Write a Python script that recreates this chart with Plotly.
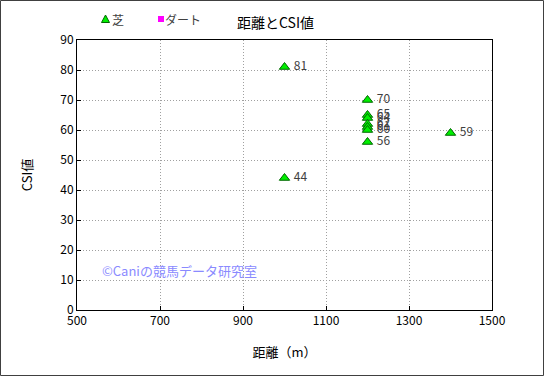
import plotly.graph_objects as go

# Data
turf_distance = [1000, 1000, 1200, 1200, 1200, 1200, 1200, 1200, 1200, 1400]
turf_csi = [81, 44, 70, 65, 64, 62, 61, 60, 56, 59]
dirt_distance = []
dirt_csi = []

x_ticks = [500, 700, 900, 1100, 1300, 1500]
y_ticks = [0, 10, 20, 30, 40, 50, 60, 70, 80, 90]

FONT = "Noto Sans CJK JP, Liberation Sans, sans-serif"

fig = go.Figure()
fig.add_trace(go.Scatter(
    x=turf_distance, y=turf_csi, name="芝",
    mode="markers+text",
    text=[" " + str(v) for v in turf_csi],
    textposition="middle right",
    textfont=dict(size=12, color="#404040", family=FONT),
    marker=dict(symbol="triangle-up", size=9, color="#00ee00",
                line=dict(color="#006600", width=1)),
    cliponaxis=False, showlegend=False, hoverinfo="skip",
))
fig.add_trace(go.Scatter(
    x=dirt_distance, y=dirt_csi, name="ダート", mode="markers",
    marker=dict(symbol="square", size=8, color="#ff00ff"),
    showlegend=False,
))

W, H = 545, 377
L, R, T, B = 77, 53, 40, 67
pw, ph = W - L - R, H - T - B


def px(xp):
    return (xp - L) / pw


def py(yp):
    return (H - B - yp) / ph


fig.update_layout(
    width=W, height=H,
    margin=dict(l=L, r=R, t=T, b=B, autoexpand=False),
    paper_bgcolor="white", plot_bgcolor="white",
    font=dict(family=FONT, size=12, color="#000000"),
    showlegend=False,
)
fig.update_xaxes(
    range=[500, 1500], tickvals=x_ticks, ticktext=[str(v) for v in x_ticks],
    showgrid=True, gridcolor="#a0a0a0", griddash="1px,2px", gridwidth=1,
    showline=True, linecolor="#000000", linewidth=1, mirror=True,
    ticks="inside", ticklen=4, tickcolor="#000000",
    zeroline=False, automargin=False,
    title=dict(text="距離（m）", font=dict(size=13, family=FONT), standoff=20),
    tickfont=dict(size=12, color="#000000"),
)
fig.update_yaxes(
    range=[0, 90], tickvals=y_ticks, ticktext=[str(v) for v in y_ticks],
    showgrid=True, gridcolor="#a0a0a0", griddash="1px,2px", gridwidth=1,
    showline=True, linecolor="#000000", linewidth=1, mirror=True,
    ticks="inside", ticklen=4, tickcolor="#000000",
    zeroline=False, automargin=False,
    title=dict(text="CSI値", font=dict(size=13, family=FONT), standoff=24),
    tickfont=dict(size=12, color="#000000"),
)

# title
fig.add_annotation(x=px(275), y=py(22), xref="paper", yref="paper",
                   xanchor="center", yanchor="middle", showarrow=False,
                   text="距離とCSI値",
                   font=dict(size=14, color="#000000", family=FONT))

# legend (manual)
fig.add_shape(type="path", xref="paper", yref="paper",
              path=f"M {px(101.5)} {py(22.5)} L {px(109.5)} {py(22.5)} L {px(105.5)} {py(15)} Z",
              fillcolor="#00ee00", line=dict(color="#006600", width=1))
fig.add_annotation(x=px(110), y=py(19), xref="paper", yref="paper",
                   xanchor="left", yanchor="middle", showarrow=False,
                   text="芝", font=dict(size=12, color="#404040", family=FONT))
fig.add_shape(type="rect", xref="paper", yref="paper",
              x0=px(158), x1=px(164), y0=py(22), y1=py(16),
              fillcolor="#ff00ff", line=dict(color="#ff00ff", width=0))
fig.add_annotation(x=px(163), y=py(19), xref="paper", yref="paper",
                   xanchor="left", yanchor="middle", showarrow=False,
                   text="ダート", font=dict(size=12, color="#404040", family=FONT))

# watermark
fig.add_annotation(
    x=px(100), y=py(270), xref="paper", yref="paper",
    xanchor="left", yanchor="middle", showarrow=False,
    text="©Caniの競馬データ研究室",
    font=dict(size=13, color="#8a8aff", family=FONT),
)

# outer frame
fig.add_shape(type="rect", xref="paper", yref="paper",
              x0=px(0.5), x1=px(543.5), y0=py(375.5), y1=py(0.5),
              line=dict(color="#404040", width=1), layer="above")

fig.write_html("out.html",
               config={"displayModeBar": False},
               post_script="document.body.style.margin='0';document.body.style.overflow='hidden';")
